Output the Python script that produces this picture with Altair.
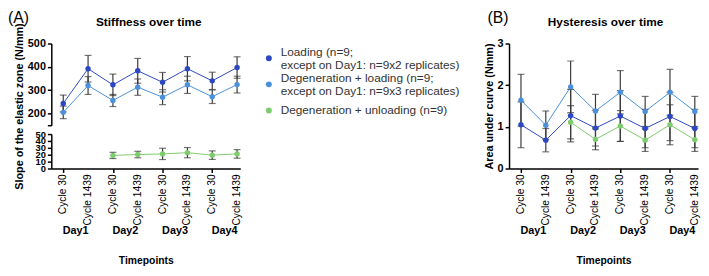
import altair as alt
import pandas as pd

# ---------------- data ----------------
tick_labels = ["Cycle 30", "Cycle 1439", "Cycle 30", "Cycle 1439",
               "Cycle 30", "Cycle 1439", "Cycle 30", "Cycle 1439"]
point_day = ["Day1", "Day1", "Day2", "Day2", "Day3", "Day3", "Day4", "Day4"]
days = ["Day1", "Day2", "Day3", "Day4"]

series = [
    "Loading (n=9;\nexcept on Day1: n=9x2 replicates)",
    "Degeneration + loading (n=9;\nexcept on Day1: n=9x3 replicates)",
    "Degeneration + unloading (n=9)",
]
colors = ["#2b47c2", "#4a90da", "#7ecb6e"]

stiff_loading_mean = [243, 392, 323, 383, 334, 392, 340, 397]
stiff_loading_sd = [36, 57, 46, 53, 42, 52, 37, 46]
stiff_degload_mean = [205, 320, 256, 313, 270, 323, 272, 324]
stiff_degload_sd = [27, 38, 26, 35, 32, 37, 29, 36]
stiff_degunload_mean = [None, None, 19.0, 20.3, 21.2, 23.0, 19.4, 21.2]
stiff_degunload_sd = [None, None, 4.5, 4.7, 8.2, 7.4, 6.2, 6.2]

hyst_loading_mean = [1.05, 0.68, 1.27, 0.97, 1.26, 0.96, 1.25, 0.96]
hyst_loading_sd = [0.55, 0.28, 0.63, 0.43, 0.61, 0.46, 0.58, 0.46]
hyst_degload_mean = [1.64, 1.04, 1.96, 1.38, 1.83, 1.37, 1.83, 1.37]
hyst_degload_sd = [0.62, 0.34, 0.62, 0.40, 0.52, 0.36, 0.55, 0.36]
hyst_degunload_mean = [None, None, 1.11, 0.70, 1.02, 0.68, 1.05, 0.69]
hyst_degunload_sd = [None, None, 0.40, 0.25, 0.37, 0.27, 0.48, 0.28]

titles = ["Stiffness over time", "Hysteresis over time"]
tags = ["(A)", "(B)"]
y_titles = ["Slope of the elastic zone (N/mm)", "Area under curve (Nmm)"]
x_title = "Timepoints"


def rows(name, means, sds):
    out = []
    for i, (m, s) in enumerate(zip(means, sds)):
        if m is None:
            continue
        out.append({"series": name, "idx": i, "mean": m, "lo": m - s, "hi": m + s})
    return out


stiff_upper = pd.DataFrame(rows(series[0], stiff_loading_mean, stiff_loading_sd)
                           + rows(series[1], stiff_degload_mean, stiff_degload_sd))
stiff_lower = pd.DataFrame(rows(series[2], stiff_degunload_mean, stiff_degunload_sd))
hyst = pd.DataFrame(rows(series[0], hyst_loading_mean, hyst_loading_sd)
                    + rows(series[1], hyst_degload_mean, hyst_degload_sd)
                    + rows(series[2], hyst_degunload_mean, hyst_degunload_sd))

day_df = pd.DataFrame({
    "day": days,
    "idx": [sum(i for i, d in enumerate(point_day) if d == day) /
            sum(1 for d in point_day if d == day) for day in days],
})
tick_df = pd.DataFrame({"idx": list(range(len(tick_labels))), "label": tick_labels})
legend_df = pd.DataFrame({"series": series})

# legend text lines: one row per printed line
leg_rows = []
for s in series:
    parts = s.split("\n")
    if len(parts) == 1:
        leg_rows.append({"series": s, "text": parts[0], "part": "single"})
    else:
        leg_rows.append({"series": s, "text": parts[0], "part": "first"})
        leg_rows.append({"series": s, "text": parts[1], "part": "second"})
leg_lines = pd.DataFrame(leg_rows)

# ---------------- styling ----------------
FONT = "Liberation Sans"
W = 192
H_UP, H_LO, GAP = 83, 35, 9
H_B = H_UP + GAP + H_LO
LEG_W = 188
SPACING = 23

xscale = alt.Scale(domain=[-0.48, 7.13], nice=False, zero=False)
cscale = alt.Scale(domain=series, range=colors)

x_axis_bottom = alt.Axis(values=list(range(8)), labels=False,
                         title=x_title, titleFontSize=10.5, titleFontWeight="bold",
                         titleY=93, titleBaseline="middle")


def layers(df, x_axis, y_scale, y_axis):
    base = alt.Chart(df)
    X = alt.X("idx:Q", scale=xscale, axis=x_axis)

    def Y(f):
        return alt.Y(f + ":Q", scale=y_scale, axis=y_axis)

    line = base.mark_line(strokeWidth=1).encode(
        x=X, y=Y("mean"), color=alt.Color("series:N", scale=cscale, legend=None))
    rule = base.mark_rule(color="#3a3a3a", strokeWidth=1.2).encode(
        x=X, y=Y("lo"), y2="hi:Q")
    cap_lo = base.mark_tick(orient="horizontal", size=7, thickness=1.2,
                            color="#3a3a3a").encode(x=X, y=Y("lo"))
    cap_hi = base.mark_tick(orient="horizontal", size=7, thickness=1.2,
                            color="#3a3a3a").encode(x=X, y=Y("hi"))
    pts = base.mark_point(filled=True, size=30, opacity=1).encode(
        x=X, y=Y("mean"), color=alt.Color("series:N", scale=cscale, legend=None))
    return [line, rule, cap_lo, cap_hi, pts]


def day_layer(h):
    return alt.Chart(day_df).mark_text(fontSize=11, fontWeight="bold", font=FONT,
                                       color="black", baseline="middle").encode(
        x=alt.X("idx:Q", scale=xscale), text="day:N",
        y=alt.value(h + 64))


def ticklabel_layer(h):
    return alt.Chart(tick_df).mark_text(fontSize=10.4, font=FONT, color="black",
                                        angle=270, align="right",
                                        baseline="middle").encode(
        x=alt.X("idx:Q", scale=xscale), text="label:N",
        y=alt.value(h + 6))


def tag_layer(tag, dx):
    return alt.Chart(pd.DataFrame({"t": [tag]})).mark_text(
        fontSize=16, font=FONT, align="left", baseline="top", color="black").encode(
        text="t:N", x=alt.value(dx), y=alt.value(-34))


def title_layer(title, dx):
    return alt.Chart(pd.DataFrame({"t": [title]})).mark_text(
        fontSize=12, fontWeight="bold", font=FONT, align="center",
        baseline="middle", color="black").encode(
        text="t:N", x=alt.value(W / 2 + dx), y=alt.value(-22))


# Panel A upper (broken axis top part)
ya_up_axis = alt.Axis(values=[150, 200, 300, 400, 500],
                      labelExpr="datum.value == 150 ? '' : datum.label",
                      labelFontSize=11, labelFontWeight="bold", labelPadding=2,
                      title=y_titles[0], titleFontSize=11,
                      titleFontWeight="bold", titleX=-32, titleY=(H_UP + GAP + H_LO) / 2,
                      titleBaseline="middle", titleAlign="center")
a_up = alt.layer(*layers(stiff_upper, None,
                         alt.Scale(domain=[150, 500], nice=False, zero=False),
                         ya_up_axis),
                 tag_layer(tags[0], -44), title_layer(titles[0], 3)).properties(
    width=W, height=H_UP)

ya_lo_axis = alt.Axis(values=[0, 10, 20, 30, 40, 50], labelFontSize=9.5,
                      labelFontWeight="bold", labelOverlap=False, labelPadding=2,
                      title=None)
a_lo = alt.layer(*layers(stiff_lower, x_axis_bottom,
                         alt.Scale(domain=[0, 50], nice=False), ya_lo_axis),
                 ticklabel_layer(H_LO), day_layer(H_LO)).properties(width=W, height=H_LO)

panel_a = alt.vconcat(a_up, a_lo, spacing=GAP, bounds="flush")

# Legend panel (drawn from the series list)
leg_y = alt.Y("series:N", sort=series, axis=None,
              scale=alt.Scale(type="point", range=[15, 68], padding=0))
leg_pts = alt.Chart(legend_df).mark_point(filled=True, size=36, opacity=1).encode(
    x=alt.value(3), y=leg_y,
    color=alt.Color("series:N", scale=cscale, legend=None))


def leg_text(part, dy):
    return alt.Chart(leg_lines).transform_filter(
        alt.datum.part == part
    ).mark_text(align="left", baseline="middle", fontSize=12, font=FONT,
                color="#333333", dy=dy).encode(
        x=alt.value(15), y=leg_y, text="text:N")


legend_chart = alt.layer(leg_pts, leg_text("first", -6.5), leg_text("second", 6.5),
                         leg_text("single", 0)).properties(width=LEG_W, height=H_B)

yb_axis = alt.Axis(values=[0, 1, 2, 3], labelFontSize=11, labelFontWeight="bold",
                   labelPadding=2, title=y_titles[1], titleFontSize=11,
                   titleFontWeight="bold", titleX=-20, titleY=H_B / 2,
                   titleBaseline="middle", titleAlign="center")
panel_b = alt.layer(*layers(hyst, x_axis_bottom,
                            alt.Scale(domain=[0, 3], nice=False), yb_axis),
                    ticklabel_layer(H_B), day_layer(H_B), tag_layer(tags[1], -22),
                    title_layer(titles[1], 2)).properties(width=W, height=H_B)

chart = alt.hconcat(panel_a, legend_chart, panel_b, spacing=SPACING,
                    bounds="full").properties(
    padding=0
).configure_view(stroke=None).configure_axis(
    domainColor="black", domainWidth=1.5, tickColor="black", tickWidth=1.5,
    tickSize=4, labelFont=FONT, titleFont=FONT, labelColor="black",
    titleColor="black", grid=False
).configure_text(font=FONT)

chart.save("out.html", embed_options={"renderer": "svg", "actions": False})
